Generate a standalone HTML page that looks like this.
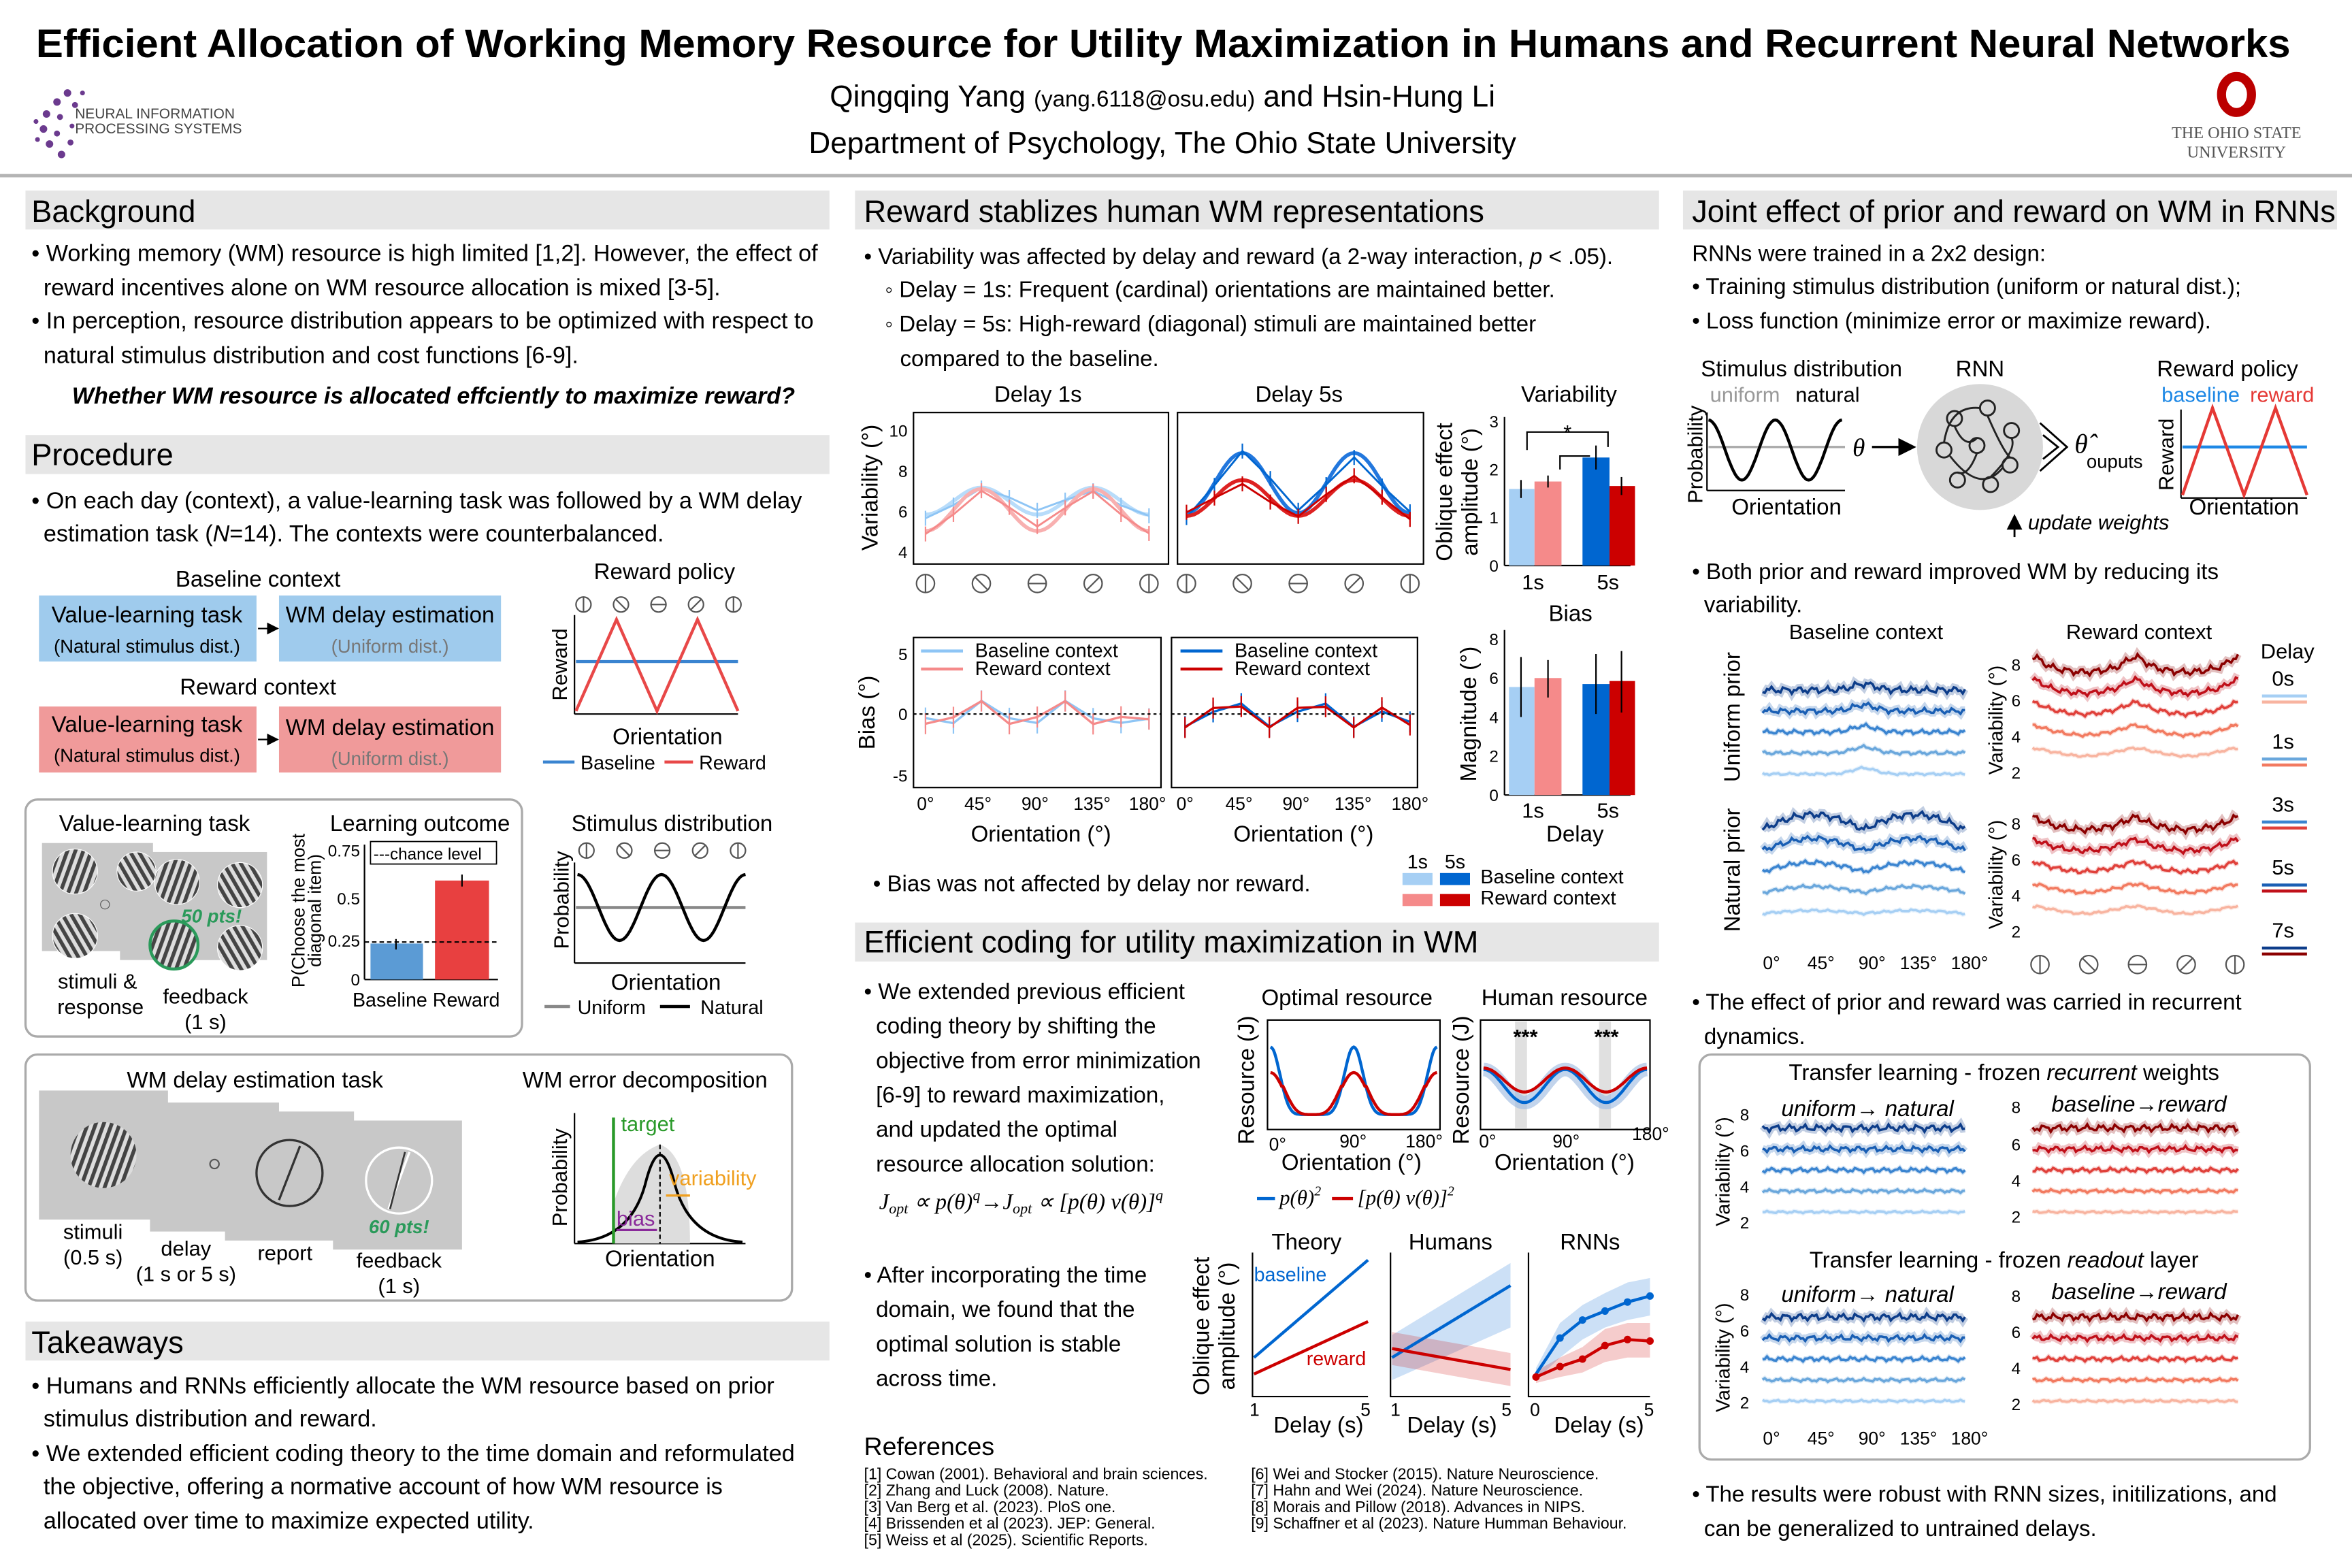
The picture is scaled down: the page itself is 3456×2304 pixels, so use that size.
<!DOCTYPE html>
<html><head><meta charset="utf-8">
<style>
html,body{margin:0;padding:0;background:#fff;}
svg{display:block;}
text{font-family:"Liberation Sans",Arial,sans-serif;}
</style></head>
<body>
<svg id="s" xmlns="http://www.w3.org/2000/svg" width="3456" height="2304" viewBox="0 0 1568 1045.3" preserveAspectRatio="none" fill="#000">
<defs>
<pattern id="stripe" width="5" height="5" patternUnits="userSpaceOnUse" patternTransform="rotate(20)">
<rect width="5" height="5" fill="#ddd"/><rect width="2.5" height="5" fill="#444"/></pattern>
<pattern id="stripe2" width="5" height="5" patternUnits="userSpaceOnUse" patternTransform="rotate(-30)">
<rect width="5" height="5" fill="#ddd"/><rect width="2.5" height="5" fill="#444"/></pattern>
<marker id="ah" markerWidth="8" markerHeight="8" refX="7" refY="4" orient="auto"><path d="M0,0 L8,4 L0,8 z" fill="#000"/></marker>
</defs>

<!-- Title -->
<text x="24" y="38" font-size="26.5" font-weight="bold" textLength="1503" lengthAdjust="spacingAndGlyphs">Efficient Allocation of Working Memory Resource for Utility Maximization in Humans and Recurrent Neural Networks</text>
<text x="775" y="71" font-size="20" text-anchor="middle">Qingqing Yang <tspan font-size="15">(yang.6118@osu.edu)</tspan> and Hsin-Hung Li</text>
<text x="775" y="102" font-size="20" text-anchor="middle">Department of Psychology, The Ohio State University</text>
<rect x="0" y="116" width="1568" height="2.2" fill="#b4b4b4"/>
<!-- NeurIPS logo -->
<g fill="#6b3a8e">
<circle cx="38" cy="68" r="2.5"/><circle cx="45" cy="62" r="2.5"/><circle cx="31" cy="76" r="2.5"/><circle cx="29" cy="86" r="2.5"/><circle cx="33" cy="96" r="2.5"/><circle cx="41" cy="103" r="2.5"/><circle cx="40" cy="78" r="2"/><circle cx="38" cy="89" r="2"/><circle cx="47" cy="95" r="2"/><circle cx="50" cy="70" r="2"/><circle cx="55" cy="62" r="1.6"/><circle cx="24" cy="81" r="1.6"/><circle cx="25" cy="93" r="1.6"/><circle cx="48" cy="84" r="1.6"/>
</g>
<text x="50" y="79" font-size="9.5" fill="#444">NEURAL INFORMATION</text>
<text x="50" y="89" font-size="9.5" fill="#444">PROCESSING SYSTEMS</text>
<!-- OSU logo -->
<g>
<ellipse cx="1491" cy="63" rx="10" ry="12" fill="none" stroke="#bb0000" stroke-width="6"/>
<text x="1491" y="92" font-size="11" text-anchor="middle" fill="#555" style="font-family:'Liberation Serif',serif">THE OHIO STATE</text>
<text x="1491" y="105" font-size="11" text-anchor="middle" fill="#555" style="font-family:'Liberation Serif',serif">UNIVERSITY</text>
</g>

<!-- Headers -->
<g fill="#e6e6e6">
<rect x="17" y="127" width="536" height="26"/>
<rect x="17" y="290" width="536" height="26"/>
<rect x="17" y="881" width="536" height="26"/>
<rect x="570" y="127" width="536" height="26"/>
<rect x="570" y="615" width="536" height="26"/>
<rect x="1122" y="127" width="436" height="26"/>
</g>
<g font-size="20.5">
<text x="21" y="148">Background</text>
<text x="21" y="310">Procedure</text>
<text x="21" y="902">Takeaways</text>
<text x="576" y="148">Reward stablizes human WM representations</text>
<text x="576" y="635">Efficient coding for utility maximization in WM</text>
<text x="1128" y="148">Joint effect of prior and reward on WM in RNNs</text>
</g>

<!-- Column 1 text -->
<g font-size="15.5">
<text x="21" y="174">• Working memory (WM) resource is high limited [1,2]. However, the effect of</text>
<text x="29" y="197">reward incentives alone on WM resource allocation is mixed [3-5].</text>
<text x="21" y="219">• In perception, resource distribution appears to be optimized with respect to</text>
<text x="29" y="242">natural stimulus distribution and cost functions [6-9].</text>
<text x="289" y="269" text-anchor="middle" font-weight="bold" font-style="italic">Whether WM resource is allocated effciently to maximize reward?</text>
<text x="21" y="339">• On each day (context), a value-learning task was followed by a WM delay</text>
<text x="29" y="361">estimation task (<tspan font-style="italic">N</tspan>=14). The contexts were counterbalanced.</text>
<text x="21" y="929">• Humans and RNNs efficiently allocate the WM resource based on prior</text>
<text x="29" y="951">stimulus distribution and reward.</text>
<text x="21" y="974">• We extended efficient coding theory to the time domain and reformulated</text>
<text x="29" y="996">the objective, offering a normative account of how WM resource is</text>
<text x="29" y="1019">allocated over time to maximize expected utility.</text>
</g>

<!-- Contexts -->
<text x="172" y="391" font-size="15" text-anchor="middle">Baseline context</text>
<rect x="26" y="397" width="145" height="44" fill="#9fcbed"/>
<rect x="186" y="397" width="148" height="44" fill="#9fcbed"/>
<text x="98" y="415" font-size="15" text-anchor="middle">Value-learning task</text>
<text x="98" y="435" font-size="12.5" text-anchor="middle">(Natural stimulus dist.)</text>
<text x="260" y="415" font-size="15" text-anchor="middle">WM delay estimation</text>
<text x="260" y="435" font-size="12.5" text-anchor="middle" fill="#777">(Uniform dist.)</text>
<line x1="172" y1="419" x2="185" y2="419" stroke="#000" stroke-width="1" marker-end="url(#ah)"/>
<text x="172" y="463" font-size="15" text-anchor="middle">Reward context</text>
<rect x="26" y="471" width="145" height="44" fill="#f09a9a"/>
<rect x="186" y="471" width="148" height="44" fill="#f09a9a"/>
<text x="98" y="488" font-size="15" text-anchor="middle">Value-learning task</text>
<text x="98" y="508" font-size="12.5" text-anchor="middle">(Natural stimulus dist.)</text>
<text x="260" y="490" font-size="15" text-anchor="middle">WM delay estimation</text>
<text x="260" y="510" font-size="12.5" text-anchor="middle" fill="#777">(Uniform dist.)</text>
<line x1="172" y1="493" x2="185" y2="493" stroke="#000" stroke-width="1" marker-end="url(#ah)"/>

<!-- Reward policy -->
<text x="443" y="386" font-size="15" text-anchor="middle">Reward policy</text>
<g id="icons1"></g>
<line x1="383" y1="410" x2="383" y2="476" stroke="#000"/><line x1="383" y1="476" x2="492" y2="476" stroke="#000"/>
<text transform="translate(378,443) rotate(-90)" font-size="14" text-anchor="middle">Reward</text>
<line x1="384" y1="441" x2="492" y2="441" stroke="#3a84d0" stroke-width="2"/>
<polyline points="384,474 411,413 438,474 465,413 492,474" fill="none" stroke="#e84848" stroke-width="2"/>
<text x="445" y="496" font-size="15" text-anchor="middle">Orientation</text>
<line x1="362" y1="508" x2="383" y2="508" stroke="#3a84d0" stroke-width="2"/><text x="387" y="513" font-size="13">Baseline</text>
<line x1="443" y1="508" x2="462" y2="508" stroke="#e84848" stroke-width="2"/><text x="466" y="513" font-size="13">Reward</text>

<!-- Value-learning box -->
<rect x="17" y="533" width="331" height="158" rx="8" fill="none" stroke="#aaa" stroke-width="1.5"/>
<text x="103" y="554" font-size="15" text-anchor="middle">Value-learning task</text>
<rect x="28" y="562" width="74" height="72" fill="#c8c8c8"/>
<rect x="80" y="568" width="74" height="72" fill="#c8c8c8"/>
<rect x="100" y="568" width="78" height="72" fill="#c8c8c8"/>
<g stroke="#fff" stroke-width="0.5">
<circle cx="50" cy="581" r="15" fill="url(#stripe)"/><circle cx="91" cy="581" r="13" fill="url(#stripe2)"/>
<circle cx="50" cy="624" r="15" fill="url(#stripe2)"/><circle cx="70" cy="603" r="3" fill="none" stroke="#555"/>
<circle cx="118" cy="588" r="15" fill="url(#stripe)"/><circle cx="160" cy="590" r="15" fill="url(#stripe2)"/>
<circle cx="116" cy="630" r="16" fill="url(#stripe)" stroke="#2a9a5a" stroke-width="2"/><circle cx="160" cy="632" r="15" fill="url(#stripe2)"/>
</g>
<text x="141" y="615" font-size="12.5" font-weight="bold" font-style="italic" fill="#2a9a5a" text-anchor="middle">50 pts!</text>
<text x="65" y="659" font-size="14" text-anchor="middle">stimuli &amp;</text>
<text x="67" y="676" font-size="14" text-anchor="middle">response</text>
<text x="137" y="669" font-size="14" text-anchor="middle">feedback</text>
<text x="137" y="686" font-size="14" text-anchor="middle">(1 s)</text>
<text x="280" y="554" font-size="15" text-anchor="middle">Learning outcome</text>
<text transform="translate(203,607) rotate(-90)" font-size="12" text-anchor="middle">P(Choose the most</text>
<text transform="translate(214,607) rotate(-90)" font-size="12" text-anchor="middle">diagonal item)</text>
<line x1="243" y1="563" x2="243" y2="653" stroke="#000"/><line x1="243" y1="653" x2="332" y2="653" stroke="#000"/>
<text x="240" y="571" font-size="11" text-anchor="end">0.75</text><text x="240" y="603" font-size="11" text-anchor="end">0.5</text><text x="240" y="631" font-size="11" text-anchor="end">0.25</text><text x="240" y="657" font-size="11" text-anchor="end">0</text>
<rect x="247" y="561" width="84" height="15" fill="#fff" stroke="#000" stroke-width="0.8"/>
<text x="249" y="573" font-size="11">---chance level</text>
<rect x="247" y="629" width="35" height="24" fill="#5b9bd5"/>
<rect x="290" y="587" width="36" height="66" fill="#e84040"/>
<line x1="243" y1="628" x2="332" y2="628" stroke="#000" stroke-dasharray="3,2"/>
<line x1="264" y1="626" x2="264" y2="633" stroke="#000"/><line x1="308" y1="583" x2="308" y2="591" stroke="#000"/>
<text x="235" y="671" font-size="13">Baseline Reward</text>

<!-- Stimulus distribution -->
<text x="448" y="554" font-size="15" text-anchor="middle">Stimulus distribution</text>
<g id="icons2"></g>
<line x1="383" y1="575" x2="383" y2="642" stroke="#000"/><line x1="383" y1="642" x2="497" y2="642" stroke="#000"/>
<text transform="translate(379,600) rotate(-90)" font-size="14" text-anchor="middle">Probability</text>
<line x1="384" y1="605" x2="497" y2="605" stroke="#888" stroke-width="2"/>
<path id="natd" fill="none" stroke="#000" stroke-width="2"/>
<text x="444" y="660" font-size="15" text-anchor="middle">Orientation</text>
<line x1="363" y1="671" x2="380" y2="671" stroke="#888" stroke-width="2"/><text x="385" y="676" font-size="13">Uniform</text>
<line x1="440" y1="671" x2="460" y2="671" stroke="#000" stroke-width="2"/><text x="467" y="676" font-size="13">Natural</text>

<!-- WM delay box -->
<rect x="17" y="703" width="511" height="164" rx="8" fill="none" stroke="#aaa" stroke-width="1.5"/>
<text x="170" y="725" font-size="15" text-anchor="middle">WM delay estimation task</text>
<rect x="26" y="727" width="86" height="86" fill="#c8c8c8"/>
<rect x="100" y="735" width="86" height="86" fill="#c8c8c8"/>
<rect x="150" y="741" width="86" height="86" fill="#c8c8c8"/>
<rect x="222" y="747" width="86" height="86" fill="#c8c8c8"/>
<circle cx="69" cy="770" r="22" fill="url(#stripe)"/>
<circle cx="143" cy="776" r="3" fill="none" stroke="#555"/>
<circle cx="193" cy="782" r="22" fill="none" stroke="#333" stroke-width="1.5"/><line x1="186" y1="800" x2="200" y2="764" stroke="#333" stroke-width="1.5"/>
<circle cx="266" cy="787" r="22" fill="none" stroke="#fff" stroke-width="1.5"/><line x1="259" y1="806" x2="273" y2="768" stroke="#fff" stroke-width="1.5"/><line x1="260" y1="806" x2="270" y2="768" stroke="#333" stroke-width="1.2"/>
<text x="266" y="822" font-size="12.5" font-weight="bold" font-style="italic" fill="#2a9a5a" text-anchor="middle">60 pts!</text>
<text x="62" y="826" font-size="14" text-anchor="middle">stimuli</text><text x="62" y="843" font-size="14" text-anchor="middle">(0.5 s)</text>
<text x="124" y="837" font-size="14" text-anchor="middle">delay</text><text x="124" y="854" font-size="14" text-anchor="middle">(1 s or 5 s)</text>
<text x="190" y="840" font-size="14" text-anchor="middle">report</text>
<text x="266" y="845" font-size="14" text-anchor="middle">feedback</text><text x="266" y="862" font-size="14" text-anchor="middle">(1 s)</text>
<text x="430" y="725" font-size="15" text-anchor="middle">WM error decomposition</text>
<line x1="383" y1="742" x2="383" y2="829" stroke="#000"/><line x1="383" y1="829" x2="497" y2="829" stroke="#000"/>
<text transform="translate(378,785) rotate(-90)" font-size="14" text-anchor="middle">Probability</text>
<path d="M409,829 L409,802 Q420,770 440,763 Q460,770 460,829 Z" fill="#ddd"/>
<path d="M385,828 Q420,826 430,790 Q440,750 450,790 Q460,826 495,828" fill="none" stroke="#000" stroke-width="1.8"/>
<line x1="409" y1="745" x2="409" y2="829" stroke="#2a9a2a" stroke-width="2"/>
<line x1="440" y1="763" x2="440" y2="829" stroke="#000" stroke-dasharray="3,2"/>
<line x1="411" y1="820" x2="438" y2="820" stroke="#8a2a9a" stroke-width="1.5"/>
<line x1="444" y1="797" x2="460" y2="797" stroke="#f0a020" stroke-width="1.5"/>
<text x="414" y="754" font-size="14" fill="#2a9a2a">target</text>
<text x="446" y="790" font-size="14" fill="#f0a020">variability</text>
<text x="411" y="817" font-size="14" fill="#8a2a9a">bias</text>
<text x="440" y="844" font-size="15" text-anchor="middle">Orientation</text>

<!-- Column 2 top text -->
<g font-size="15">
<text x="576" y="176">• Variability was affected by delay and reward (a 2-way interaction, <tspan font-style="italic">p</tspan> &lt; .05).</text>
<text x="590" y="198">◦ Delay = 1s: Frequent (cardinal) orientations are maintained better.</text>
<text x="590" y="221">◦ Delay = 5s: High-reward (diagonal) stimuli are maintained better</text>
<text x="600" y="244">compared to the baseline.</text>
<text x="582" y="594">• Bias was not affected by delay nor reward.</text>
</g>
<text x="692" y="268" font-size="15" text-anchor="middle">Delay 1s</text>
<text x="866" y="268" font-size="15" text-anchor="middle">Delay 5s</text>
<text x="1046" y="268" font-size="15" text-anchor="middle">Variability</text>
<rect x="609" y="275" width="170" height="101" fill="none" stroke="#000"/>
<rect x="785" y="275" width="164" height="101" fill="none" stroke="#000"/>
<text transform="translate(585,325) rotate(-90)" font-size="15" text-anchor="middle">Variability (°)</text>
<g font-size="11" text-anchor="end"><text x="605" y="291">10</text><text x="605" y="318">8</text><text x="605" y="345">6</text><text x="605" y="372">4</text></g>
<g id="plots2"></g>
<g id="icons3"></g>
<!-- variability bar -->
<line x1="1003" y1="278" x2="1003" y2="377" stroke="#000"/><line x1="1003" y1="377" x2="1087" y2="377" stroke="#000"/>
<g font-size="11" text-anchor="end"><text x="999" y="285">3</text><text x="999" y="317">2</text><text x="999" y="349">1</text><text x="999" y="381">0</text></g>
<text transform="translate(968,328) rotate(-90)" font-size="15" text-anchor="middle">Oblique effect</text>
<text transform="translate(985,328) rotate(-90)" font-size="15" text-anchor="middle">amplitude (°)</text>
<rect x="1006" y="326" width="17" height="51" fill="#a6cff4"/><rect x="1023" y="321" width="18" height="56" fill="#f58a8a"/>
<rect x="1055" y="305" width="18" height="72" fill="#0066d0"/><rect x="1073" y="324" width="17" height="53" fill="#cc0000"/>
<g stroke="#000"><line x1="1014" y1="320" x2="1014" y2="332"/><line x1="1032" y1="317" x2="1032" y2="325"/><line x1="1064" y1="297" x2="1064" y2="313"/><line x1="1081" y1="318" x2="1081" y2="330"/>
<polyline points="1018,300 1018,288 1072,288 1072,298" fill="none"/><polyline points="1040,313 1040,304 1060,304" fill="none"/></g>
<text x="1045" y="293" font-size="14" text-anchor="middle">*</text>
<text x="1022" y="393" font-size="14" text-anchor="middle">1s</text><text x="1072" y="393" font-size="14" text-anchor="middle">5s</text>

<!-- Bias -->
<rect x="609" y="425" width="165" height="100" fill="none" stroke="#000"/>
<rect x="781" y="425" width="164" height="100" fill="none" stroke="#000"/>
<text transform="translate(583,475) rotate(-90)" font-size="15" text-anchor="middle">Bias (°)</text>
<g font-size="11" text-anchor="end"><text x="605" y="440">5</text><text x="605" y="480">0</text><text x="605" y="521">-5</text></g>
<line x1="609" y1="476" x2="774" y2="476" stroke="#000" stroke-dasharray="2,2"/>
<line x1="781" y1="476" x2="945" y2="476" stroke="#000" stroke-dasharray="2,2"/>
<line x1="614" y1="434" x2="642" y2="434" stroke="#8ec5f5" stroke-width="2"/><text x="650" y="438" font-size="13">Baseline context</text>
<line x1="614" y1="446" x2="642" y2="446" stroke="#f58a8a" stroke-width="2"/><text x="650" y="450" font-size="13">Reward context</text>
<line x1="787" y1="434" x2="815" y2="434" stroke="#0066d0" stroke-width="2"/><text x="823" y="438" font-size="13">Baseline context</text>
<line x1="787" y1="446" x2="815" y2="446" stroke="#cc0000" stroke-width="2"/><text x="823" y="450" font-size="13">Reward context</text>
<g font-size="12" text-anchor="middle"><text x="617" y="540">0°</text><text x="652" y="540">45°</text><text x="690" y="540">90°</text><text x="728" y="540">135°</text><text x="765" y="540">180°</text>
<text x="790" y="540">0°</text><text x="826" y="540">45°</text><text x="864" y="540">90°</text><text x="902" y="540">135°</text><text x="940" y="540">180°</text></g>
<text x="694" y="561" font-size="15" text-anchor="middle">Orientation (°)</text>
<text x="869" y="561" font-size="15" text-anchor="middle">Orientation (°)</text>
<text x="1047" y="414" font-size="15" text-anchor="middle">Bias</text>
<line x1="1003" y1="420" x2="1003" y2="530" stroke="#000"/><line x1="1003" y1="530" x2="1087" y2="530" stroke="#000"/>
<g font-size="11" text-anchor="end"><text x="999" y="430">8</text><text x="999" y="456">6</text><text x="999" y="482">4</text><text x="999" y="508">2</text><text x="999" y="534">0</text></g>
<text transform="translate(984,476) rotate(-90)" font-size="15" text-anchor="middle">Magnitude (°)</text>
<rect x="1006" y="458" width="17" height="72" fill="#a6cff4"/><rect x="1023" y="452" width="18" height="78" fill="#f58a8a"/>
<rect x="1055" y="456" width="18" height="74" fill="#0066d0"/><rect x="1073" y="454" width="17" height="76" fill="#cc0000"/>
<g stroke="#000"><line x1="1014" y1="438" x2="1014" y2="478"/><line x1="1032" y1="440" x2="1032" y2="465"/><line x1="1064" y1="436" x2="1064" y2="476"/><line x1="1081" y1="434" x2="1081" y2="475"/></g>
<text x="1022" y="545" font-size="14" text-anchor="middle">1s</text><text x="1072" y="545" font-size="14" text-anchor="middle">5s</text>
<text x="1050" y="561" font-size="15" text-anchor="middle">Delay</text>
<text x="945" y="579" font-size="13" text-anchor="middle">1s</text><text x="970" y="579" font-size="13" text-anchor="middle">5s</text>
<rect x="935" y="582" width="20" height="8" fill="#a6cff4"/><rect x="960" y="582" width="20" height="8" fill="#0066d0"/>
<rect x="935" y="596" width="20" height="8" fill="#f58a8a"/><rect x="960" y="596" width="20" height="8" fill="#cc0000"/>
<text x="987" y="589" font-size="13">Baseline context</text><text x="987" y="603" font-size="13">Reward context</text>

<!-- Efficient coding text -->
<g font-size="15">
<text x="576" y="666">• We extended previous efficient</text>
<text x="584" y="689">coding theory by shifting the</text>
<text x="584" y="712">objective from error minimization</text>
<text x="584" y="735">[6-9] to reward maximization,</text>
<text x="584" y="758">and updated the optimal</text>
<text x="584" y="781">resource allocation solution:</text>
<text x="586" y="806" font-style="italic" style="font-family:'Liberation Serif',serif" font-size="15">J<tspan font-size="10" dy="3">opt</tspan><tspan dy="-3"> ∝ p(θ)</tspan><tspan font-size="10" dy="-6">q</tspan><tspan dy="6">→J</tspan><tspan font-size="10" dy="3">opt</tspan><tspan dy="-3"> ∝ [p(θ) v(θ)]</tspan><tspan font-size="10" dy="-6">q</tspan></text>
<text x="576" y="855">• After incorporating the time</text>
<text x="584" y="878">domain, we found that the</text>
<text x="584" y="901">optimal solution is stable</text>
<text x="584" y="924">across time.</text>
</g>
<text x="898" y="670" font-size="15" text-anchor="middle">Optimal resource</text>
<text x="1043" y="670" font-size="15" text-anchor="middle">Human resource</text>
<rect x="845" y="680" width="115" height="73" fill="none" stroke="#000"/>
<rect x="987" y="680" width="113" height="73" fill="none" stroke="#000"/>
<rect x="1010" y="681" width="8" height="71" fill="#e0e0e0"/><rect x="1066" y="681" width="8" height="71" fill="#e0e0e0"/>
<text x="1017" y="696" font-size="14" font-weight="bold" text-anchor="middle">***</text><text x="1071" y="696" font-size="14" font-weight="bold" text-anchor="middle">***</text>
<text transform="translate(836,720) rotate(-90)" font-size="15" text-anchor="middle">Resource (J)</text>
<text transform="translate(979,720) rotate(-90)" font-size="15" text-anchor="middle">Resource (J)</text>
<g id="plots3"></g>
<g font-size="12"><text x="846" y="767">0°</text><text x="893" y="765">90°</text><text x="937" y="765">180°</text><text x="986" y="765">0°</text><text x="1035" y="765">90°</text><text x="1088" y="760">180°</text></g>
<text x="901" y="780" font-size="15" text-anchor="middle">Orientation (°)</text>
<text x="1043" y="780" font-size="15" text-anchor="middle">Orientation (°)</text>
<line x1="838" y1="799" x2="850" y2="799" stroke="#0066d0" stroke-width="2"/>
<text x="853" y="803" font-size="14" font-style="italic" style="font-family:'Liberation Serif',serif">p(θ)<tspan font-size="9" dy="-6">2</tspan></text>
<line x1="888" y1="799" x2="902" y2="799" stroke="#cc0000" stroke-width="2"/>
<text x="905" y="803" font-size="14" font-style="italic" style="font-family:'Liberation Serif',serif">[p(θ) v(θ)]<tspan font-size="9" dy="-6">2</tspan></text>
<text x="871" y="833" font-size="15" text-anchor="middle">Theory</text>
<text x="967" y="833" font-size="15" text-anchor="middle">Humans</text>
<text x="1060" y="833" font-size="15" text-anchor="middle">RNNs</text>
<g stroke="#000" fill="none">
<polyline points="835,835 835,931 912,931"/><polyline points="927,835 927,931 1007,931"/><polyline points="1019,835 1019,931 1100,931"/></g>
<text transform="translate(806,884) rotate(-90)" font-size="15" text-anchor="middle">Oblique effect</text>
<text transform="translate(823,884) rotate(-90)" font-size="15" text-anchor="middle">amplitude (°)</text>
<line x1="836" y1="905" x2="912" y2="840" stroke="#0066d0" stroke-width="2"/>
<line x1="836" y1="916" x2="912" y2="881" stroke="#cc0000" stroke-width="2"/>
<text x="836" y="854" font-size="13" fill="#0066d0">baseline</text>
<text x="871" y="910" font-size="13" fill="#cc0000">reward</text>
<polygon points="928,890 1007,842 1007,885 928,920" fill="#0066d0" opacity="0.2"/>
<polygon points="928,888 1007,902 1007,924 928,910" fill="#cc0000" opacity="0.2"/>
<line x1="928" y1="905" x2="1007" y2="857" stroke="#0066d0" stroke-width="2"/>
<line x1="928" y1="899" x2="1007" y2="913" stroke="#cc0000" stroke-width="2"/>
<polygon points="1024,912 1040,882 1055,870 1070,862 1085,855 1100,852 1100,877 1085,880 1070,885 1055,893 1040,905 1024,920" fill="#0066d0" opacity="0.2"/>
<polygon points="1024,914 1040,905 1055,898 1070,886 1085,882 1100,882 1100,905 1085,905 1070,908 1055,915 1040,918 1024,922" fill="#cc0000" opacity="0.2"/>
<polyline points="1024,916 1040,892 1055,880 1070,874 1085,868 1100,864" fill="none" stroke="#0066d0" stroke-width="2"/>
<polyline points="1024,918 1040,911 1055,906 1070,897 1085,893 1100,894" fill="none" stroke="#cc0000" stroke-width="2"/>
<g fill="#0066d0"><circle cx="1040" cy="892" r="2.5"/><circle cx="1055" cy="880" r="2.5"/><circle cx="1070" cy="874" r="2.5"/><circle cx="1085" cy="868" r="2.5"/><circle cx="1100" cy="864" r="2.5"/></g>
<g fill="#cc0000"><circle cx="1024" cy="918" r="2.5"/><circle cx="1040" cy="911" r="2.5"/><circle cx="1055" cy="906" r="2.5"/><circle cx="1070" cy="897" r="2.5"/><circle cx="1085" cy="893" r="2.5"/><circle cx="1100" cy="894" r="2.5"/></g>
<g font-size="12"><text x="833" y="944">1</text><text x="907" y="944">5</text><text x="927" y="944">1</text><text x="1001" y="944">5</text><text x="1020" y="944">0</text><text x="1096" y="944">5</text></g>
<text x="879" y="955" font-size="15" text-anchor="middle">Delay (s)</text>
<text x="968" y="955" font-size="15" text-anchor="middle">Delay (s)</text>
<text x="1066" y="955" font-size="15" text-anchor="middle">Delay (s)</text>

<!-- References -->
<text x="576" y="970" font-size="17">References</text>
<g font-size="10.5">
<text x="576" y="986">[1] Cowan (2001). Behavioral and brain sciences.</text>
<text x="576" y="997">[2] Zhang and Luck (2008). Nature.</text>
<text x="576" y="1008">[3] Van Berg et al. (2023). PloS one.</text>
<text x="576" y="1019">[4] Brissenden et al (2023). JEP: General.</text>
<text x="576" y="1030">[5] Weiss et al (2025). Scientific Reports.</text>
<text x="834" y="986">[6] Wei and Stocker (2015). Nature Neuroscience.</text>
<text x="834" y="997">[7] Hahn and Wei (2024). Nature Neuroscience.</text>
<text x="834" y="1008">[8] Morais and Pillow (2018). Advances in NIPS.</text>
<text x="834" y="1019">[9] Schaffner et al (2023). Nature Humman Behaviour.</text>
</g>

<!-- Column 3 -->
<g font-size="15">
<text x="1128" y="174">RNNs were trained in a 2x2 design:</text>
<text x="1128" y="196">• Training stimulus distribution (uniform or natural dist.);</text>
<text x="1128" y="219">• Loss function (minimize error or maximize reward).</text>
<text x="1128" y="386">• Both prior and reward improved WM by reducing its</text>
<text x="1136" y="408">variability.</text>
<text x="1128" y="673">• The effect of prior and reward was carried in recurrent</text>
<text x="1136" y="696">dynamics.</text>
<text x="1128" y="1001">• The results were robust with RNN sizes, initilizations, and</text>
<text x="1136" y="1024">can be generalized to untrained delays.</text>
</g>
<text x="1201" y="251" font-size="15" text-anchor="middle">Stimulus distribution</text>
<text x="1140" y="268" font-size="14" fill="#999">uniform</text><text x="1197" y="268" font-size="14">natural</text>
<line x1="1138" y1="275" x2="1138" y2="327" stroke="#000"/><line x1="1138" y1="327" x2="1230" y2="327" stroke="#000"/>
<text transform="translate(1135,303) rotate(-90)" font-size="14" text-anchor="middle">Probability</text>
<line x1="1139" y1="298" x2="1230" y2="298" stroke="#aaa" stroke-width="1.5"/>
<path id="nat3" fill="none" stroke="#000" stroke-width="2"/>
<text x="1191" y="343" font-size="15" text-anchor="middle">Orientation</text>
<text x="1235" y="304" font-size="17" font-style="italic" style="font-family:'Liberation Serif',serif">θ</text>
<line x1="1248" y1="298" x2="1276" y2="298" stroke="#000" stroke-width="1.5" marker-end="url(#ah)"/>
<text x="1320" y="251" font-size="15" text-anchor="middle">RNN</text>
<circle cx="1320" cy="298" r="42" fill="#d8d8d8"/>
<g fill="none" stroke="#222" stroke-width="1.3">
<circle cx="1303" cy="279" r="5"/><circle cx="1325" cy="272" r="5"/><circle cx="1341" cy="287" r="5"/><circle cx="1296" cy="300" r="5"/><circle cx="1318" cy="297" r="5"/><circle cx="1340" cy="310" r="5"/><circle cx="1305" cy="320" r="5"/><circle cx="1327" cy="323" r="5"/>
<path d="M1303,284 Q1310,300 1318,292 M1325,277 Q1335,300 1340,305 M1296,295 Q1300,270 1320,272 M1318,302 Q1312,318 1305,315 M1327,318 Q1345,300 1341,292 M1300,304 Q1320,330 1335,312"/>
</g>
<path d="M1362,290 L1372,298 L1362,306 M1360,282 L1378,298 L1360,314" fill="none" stroke="#000" stroke-width="1.3"/>
<text x="1383" y="302" font-size="18" font-style="italic" style="font-family:'Liberation Serif',serif">θ̂</text>
<text x="1391" y="312" font-size="12.5">ouputs</text>
<text x="1485" y="251" font-size="15" text-anchor="middle">Reward policy</text>
<text x="1441" y="268" font-size="14" fill="#1e88e5">baseline</text><text x="1500" y="268" font-size="14" fill="#e53935">reward</text>
<line x1="1454" y1="273" x2="1454" y2="332" stroke="#000"/><line x1="1454" y1="332" x2="1538" y2="332" stroke="#000"/>
<text transform="translate(1449,303) rotate(-90)" font-size="14" text-anchor="middle">Reward</text>
<line x1="1455" y1="298" x2="1538" y2="298" stroke="#1e88e5" stroke-width="2"/>
<polyline points="1455,330 1475,272 1496,330 1517,272 1538,330" fill="none" stroke="#e53935" stroke-width="2"/>
<text x="1496" y="343" font-size="15" text-anchor="middle">Orientation</text>
<line x1="1343" y1="358" x2="1343" y2="344" stroke="#000" stroke-width="1.3" marker-end="url(#ah)"/>
<text x="1352" y="353" font-size="14" font-style="italic">update weights</text>

<text x="1244" y="426" font-size="14" text-anchor="middle">Baseline context</text>
<text x="1426" y="426" font-size="14" text-anchor="middle">Reward context</text>
<text transform="translate(1160,478) rotate(-90)" font-size="15" text-anchor="middle">Uniform prior</text>
<text transform="translate(1160,580) rotate(-90)" font-size="15" text-anchor="middle">Natural prior</text>
<text transform="translate(1335,480) rotate(-90)" font-size="13" text-anchor="middle">Variability (°)</text>
<text transform="translate(1335,583) rotate(-90)" font-size="13" text-anchor="middle">Variability (°)</text>
<g font-size="11"><text x="1341" y="447">8</text><text x="1341" y="471">6</text><text x="1341" y="495">4</text><text x="1341" y="519">2</text>
<text x="1341" y="553">8</text><text x="1341" y="577">6</text><text x="1341" y="601">4</text><text x="1341" y="625">2</text></g>
<g font-size="12" text-anchor="middle"><text x="1181" y="646">0°</text><text x="1214" y="646">45°</text><text x="1248" y="646">90°</text><text x="1279" y="646">135°</text><text x="1313" y="646">180°</text></g>
<text x="1525" y="439" font-size="14" text-anchor="middle">Delay</text>
<g font-size="14" text-anchor="middle"><text x="1522" y="457">0s</text><text x="1522" y="499">1s</text><text x="1522" y="541">3s</text><text x="1522" y="583">5s</text><text x="1522" y="625">7s</text></g>
<g id="dleg"></g>
<rect x="1133" y="703" width="407" height="270" rx="8" fill="none" stroke="#aaa" stroke-width="1.5"/>
<text x="1336" y="720" font-size="15" text-anchor="middle">Transfer learning - frozen <tspan font-style="italic">recurrent</tspan> weights</text>
<text x="1336" y="845" font-size="15" text-anchor="middle">Transfer learning - frozen <tspan font-style="italic">readout</tspan> layer</text>
<text x="1245" y="744" font-size="15" text-anchor="middle" font-style="italic">uniform→ natural</text>
<text x="1426" y="741" font-size="15" text-anchor="middle" font-style="italic">baseline→reward</text>
<text x="1245" y="868" font-size="15" text-anchor="middle" font-style="italic">uniform→ natural</text>
<text x="1426" y="866" font-size="15" text-anchor="middle" font-style="italic">baseline→reward</text>
<text transform="translate(1153,781) rotate(-90)" font-size="13" text-anchor="middle">Variability (°)</text>
<text transform="translate(1153,905) rotate(-90)" font-size="13" text-anchor="middle">Variability (°)</text>
<g font-size="11"><text x="1160" y="747">8</text><text x="1160" y="771">6</text><text x="1160" y="795">4</text><text x="1160" y="819">2</text>
<text x="1341" y="742">8</text><text x="1341" y="767">6</text><text x="1341" y="791">4</text><text x="1341" y="815">2</text>
<text x="1160" y="867">8</text><text x="1160" y="891">6</text><text x="1160" y="915">4</text><text x="1160" y="939">2</text>
<text x="1341" y="868">8</text><text x="1341" y="892">6</text><text x="1341" y="916">4</text><text x="1341" y="940">2</text></g>
<g font-size="12" text-anchor="middle"><text x="1181" y="963">0°</text><text x="1214" y="963">45°</text><text x="1248" y="963">90°</text><text x="1279" y="963">135°</text><text x="1313" y="963">180°</text></g>
<g id="rnn"></g>
<g id="icons4"></g>
</svg>
<script>
var NS="http://www.w3.org/2000/svg";
function el(p,t,a){var e=document.createElementNS(NS,t);for(var k in a)e.setAttribute(k,a[k]);document.getElementById(p).appendChild(e);return e;}
function icon(p,cx,cy,r,ang){el(p,"circle",{cx:cx,cy:cy,r:r,fill:"none",stroke:"#555","stroke-width":1});
var a=ang*Math.PI/180,dx=r*Math.sin(a),dy=-r*Math.cos(a);el(p,"line",{x1:cx-dx,y1:cy-dy,x2:cx+dx,y2:cy+dy,stroke:"#555","stroke-width":1});}
function icons(p,x0,x1,y,r){for(var i=0;i<5;i++){icon(p,x0+(x1-x0)*i/4,y,r,[0,-45,90,45,0][i]);}}
icons("icons1",389,489,403,5);icons("icons2",391,492,567,5);
icons("icons3",617,766,389,6);icons("icons3",791,940,389,6);
icons("icons4",1360,1490,643,6);
function path(id,x0,x1,f,n){var d="";for(var i=0;i<=n;i++){var t=i/n;d+=(i?"L":"M")+(x0+(x1-x0)*t).toFixed(1)+","+f(t).toFixed(1);}return d;}
document.getElementById("natd").setAttribute("d",path("",385,497,function(t){return 605-22*Math.cos(4*Math.PI*t);},80));
document.getElementById("nat3").setAttribute("d",path("",1139,1228,function(t){return 300-20*Math.cos(4*Math.PI*t);},80));
function vp(x0,x1,base,amp,col,shade){
 el("plots2","path",{d:path("",x0,x1,function(t){return base+amp*Math.cos(4*Math.PI*t);},60),fill:"none",stroke:shade,"stroke-width":2.5});
 var pts=[];for(var i=0;i<9;i++){var t=i/8,x=x0+(x1-x0)*t,y=base+amp*Math.cos(4*Math.PI*t)+(Math.sin(i*7.3+base)*3);pts.push(x.toFixed(1)+","+y.toFixed(1));
 el("plots2","line",{x1:x,y1:y-5,x2:x,y2:y+5,stroke:col,"stroke-width":1});}
 el("plots2","polyline",{points:pts.join(" "),fill:"none",stroke:col,"stroke-width":1.3});}
vp(617,766,334,9,"#8ec5f5","#b8dcfa");vp(617,766,340,14,"#f58a8a","#f8b0b0");
vp(791,940,322,20,"#0066d0","#2277dd");vp(791,940,332,12,"#cc0000","#dd2222");
function bp(x0,x1,col,seed){var pts=[];for(var i=0;i<9;i++){var x=x0+(x1-x0)*i/8,y=476+Math.sin(i*2.1+seed)*9-(i==8?-12:0);pts.push(x.toFixed(1)+","+y.toFixed(1));el("plots2","line",{x1:x,y1:y-7,x2:x,y2:y+7,stroke:col});}
 el("plots2","polyline",{points:pts.join(" "),fill:"none",stroke:col,"stroke-width":1.5});}
bp(617,766,"#8ec5f5",0.3);bp(617,766,"#f58a8a",0.8);bp(790,940,"#0066d0",1.2);bp(790,940,"#cc0000",1.5);
el("plots3","path",{d:path("",847,958,function(t){return 748-45*Math.pow(Math.cos(2*Math.PI*t),8)-5;},120),fill:"none",stroke:"#0066d0","stroke-width":2});
el("plots3","path",{d:path("",847,958,function(t){var c=Math.cos(2*Math.PI*t);return 748-30*Math.pow(c*c,2)-5+(Math.abs(c)>0.9?2:0);},120),fill:"none",stroke:"#cc0000","stroke-width":2});
el("plots3","path",{d:path("",989,1098,function(t){var c=Math.cos(2*Math.PI*t);return 735-22*c*c;},80),fill:"none",stroke:"#9ab8e0","stroke-width":9,opacity:0.6});
el("plots3","path",{d:path("",989,1098,function(t){var c=Math.cos(2*Math.PI*t);return 735-22*c*c;},80),fill:"none",stroke:"#0066d0","stroke-width":2});
el("plots3","path",{d:path("",989,1098,function(t){var c=Math.cos(2*Math.PI*t);return 728-16*c*c;},80),fill:"none",stroke:"#cc0000","stroke-width":2});
var blues=["#0d3d8a","#1a5fb4","#3a84d0","#6aa7dc","#a6cff4"],reds=["#8b0000","#c0101a","#e0403a","#f27a60","#f8b4a0"];
function rnn(x0,x1,ytop,cols,amp,kind,seed){for(var k=0;k<5;k++){var b=ytop+k*14;
 var d=path("",x0,x1,function(t){var s=Math.sin(t*90+seed+k)*1.5+Math.sin(t*230+k*3)*1.0;
 var shape=kind==0?Math.exp(-Math.pow((t-0.5)/0.08,2))*-4:(kind==1?-(Math.abs(Math.sin(2*Math.PI*t)))*amp*(1-k/5):(kind==2?(Math.exp(-Math.pow((t-0.5)/0.06,2))+Math.exp(-Math.pow(t/0.06,2))+Math.exp(-Math.pow((t-1)/0.06,2)))*-amp*(1-k/5)+Math.cos(4*Math.PI*t)*-2:0));
 return b+shape+s*(1-k/6);},90);
 el("rnn","path",{d:d,fill:"none",stroke:cols[k],"stroke-width":k<2?5:3,opacity:0.25});
 el("rnn","path",{d:d,fill:"none",stroke:cols[k],"stroke-width":1.6});}}
rnn(1175,1310,460,blues,0,0,1);rnn(1355,1492,446,reds,6,2,2);
rnn(1175,1310,553,blues,10,1,3);rnn(1355,1492,551,reds,4,2,4);
rnn(1175,1310,752,blues,0,3,5);rnn(1355,1492,752,reds,0,3,6);
rnn(1175,1310,878,blues,0,3,7);rnn(1355,1492,878,reds,0,3,8);
var ys=[464,506,548,590,632];for(var i=0;i<5;i++){el("dleg","line",{x1:1508,y1:ys[i],x2:1538,y2:ys[i],stroke:blues[4-i],"stroke-width":2});el("dleg","line",{x1:1508,y1:ys[i]+4,x2:1538,y2:ys[i]+4,stroke:reds[4-i],"stroke-width":2});}
</script>
</body></html>
